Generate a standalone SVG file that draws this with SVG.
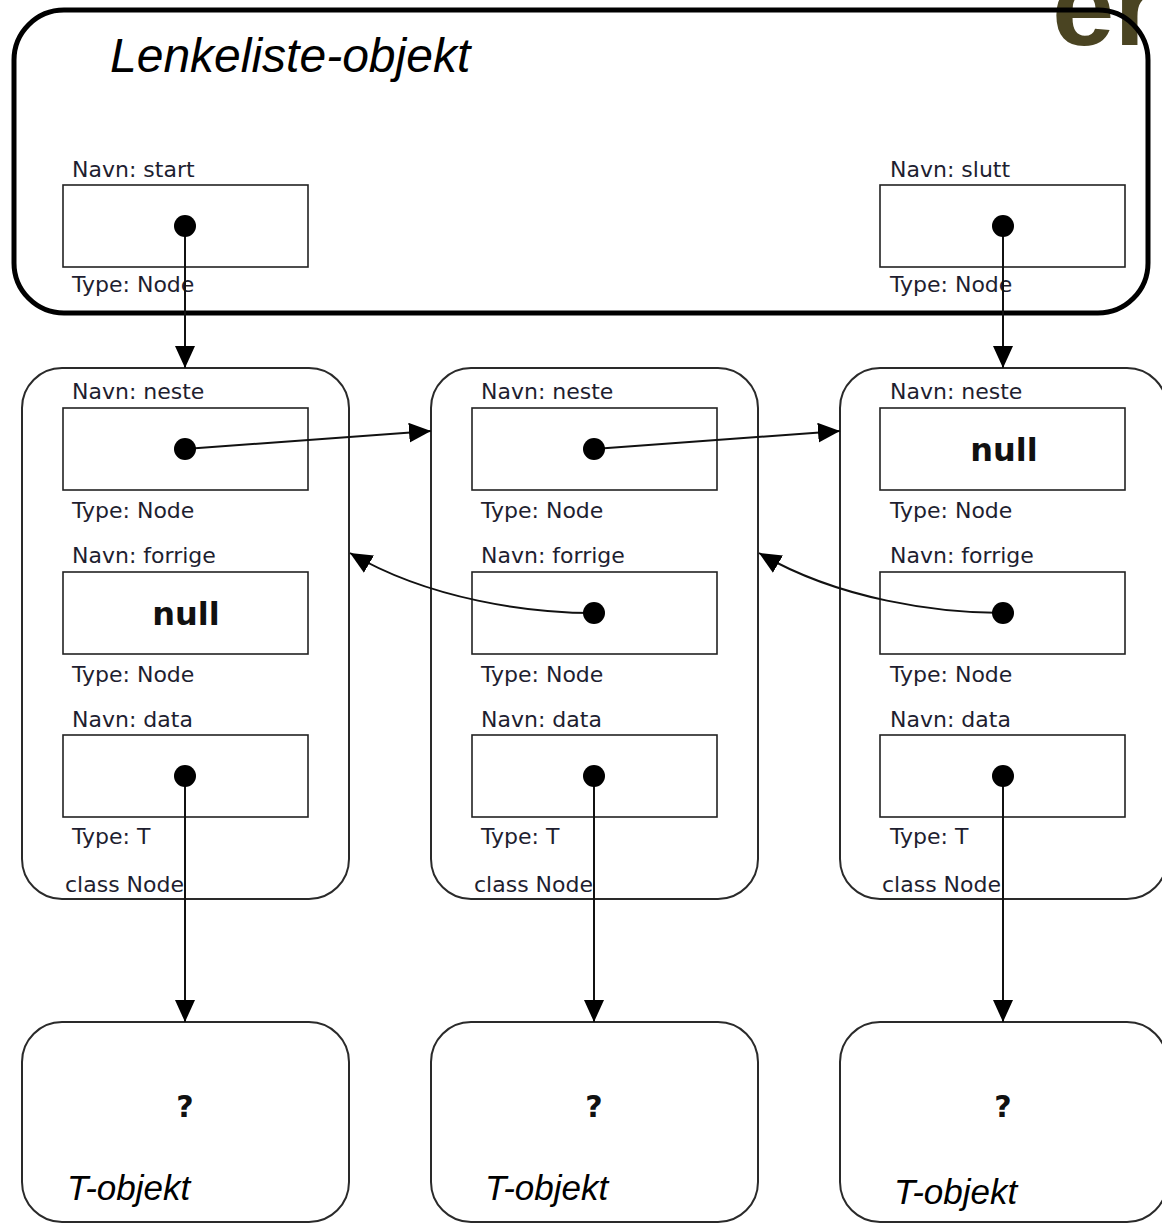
<svg xmlns="http://www.w3.org/2000/svg" width="1162" height="1224" viewBox="0 0 1162 1224">
  <style>
    .lbl { font-family: "DejaVu Sans", Verdana, sans-serif; font-size: 22px; fill: #1e1e30; }
    .null { font-family: "DejaVu Sans", Verdana, sans-serif; font-size: 32px; font-weight: bold; fill: #111; text-anchor: middle; }
    .q { font-family: "DejaVu Sans", Verdana, sans-serif; font-size: 30px; font-weight: bold; fill: #111; text-anchor: middle; }
    .title { font-family: "Liberation Sans", Arial, sans-serif; font-style: italic; fill: #000; }
    .node { fill: #fff; stroke: #2a2a2a; stroke-width: 2; }
    .field { fill: #fff; stroke: #222; stroke-width: 1.6; }
    .dot { fill: #000; }
    .conn { fill: none; stroke: #111; stroke-width: 2; marker-end: url(#arrow); }
  </style>
  <defs>
    <marker id="arrow" markerUnits="userSpaceOnUse" markerWidth="22" markerHeight="20" refX="22" refY="10" orient="auto">
      <path d="M0,0 L22,10 L0,20 Z" fill="#000"/>
    </marker>
  </defs>

  <rect width="1162" height="1224" fill="#fff"/>

  <!-- logo fragment, top right -->
  <text x="1052" y="45" font-family="Liberation Sans, Arial, sans-serif" font-weight="bold" font-size="112" fill="#4a4422">er</text>

  <!-- list object -->
  <g id="lenkeliste">
    <rect x="14" y="10" width="1134" height="303" rx="50" ry="50" fill="none" stroke="#000" stroke-width="5"/>
    <text class="title" x="110" y="72" font-size="48">Lenkeliste-objekt</text>
    <text class="lbl" x="72" y="177">Navn: start</text>
    <rect class="field" x="63" y="185" width="245" height="82"/>
    <text class="lbl" x="72" y="292">Type: Node</text>
    <text class="lbl" x="890" y="177">Navn: slutt</text>
    <rect class="field" x="880" y="185" width="245" height="82"/>
    <text class="lbl" x="890" y="292">Type: Node</text>
  </g>

  <!-- node 1 -->
  <g id="node1">
    <rect class="node" x="22" y="368" width="327" height="531" rx="40" ry="40"/>
    <text class="lbl" x="72" y="399">Navn: neste</text>
    <rect class="field" x="63" y="408" width="245" height="82"/>
    <text class="lbl" x="72" y="518">Type: Node</text>
    <text class="lbl" x="72" y="563">Navn: forrige</text>
    <rect class="field" x="63" y="572" width="245" height="82"/>
    <text class="null" x="186" y="625">null</text>
    <text class="lbl" x="72" y="682">Type: Node</text>
    <text class="lbl" x="72" y="727">Navn: data</text>
    <rect class="field" x="63" y="735" width="245" height="82"/>
    <text class="lbl" x="72" y="844">Type: T</text>
    <text class="lbl" x="65" y="892">class Node</text>
  </g>

  <!-- node 2 -->
  <g id="node2">
    <rect class="node" x="431" y="368" width="327" height="531" rx="40" ry="40"/>
    <text class="lbl" x="481" y="399">Navn: neste</text>
    <rect class="field" x="472" y="408" width="245" height="82"/>
    <text class="lbl" x="481" y="518">Type: Node</text>
    <text class="lbl" x="481" y="563">Navn: forrige</text>
    <rect class="field" x="472" y="572" width="245" height="82"/>
    <text class="lbl" x="481" y="682">Type: Node</text>
    <text class="lbl" x="481" y="727">Navn: data</text>
    <rect class="field" x="472" y="735" width="245" height="82"/>
    <text class="lbl" x="481" y="844">Type: T</text>
    <text class="lbl" x="474" y="892">class Node</text>
  </g>

  <!-- node 3 -->
  <g id="node3">
    <rect class="node" x="840" y="368" width="327" height="531" rx="40" ry="40"/>
    <text class="lbl" x="890" y="399">Navn: neste</text>
    <rect class="field" x="880" y="408" width="245" height="82"/>
    <text class="null" x="1004" y="461">null</text>
    <text class="lbl" x="890" y="518">Type: Node</text>
    <text class="lbl" x="890" y="563">Navn: forrige</text>
    <rect class="field" x="880" y="572" width="245" height="82"/>
    <text class="lbl" x="890" y="682">Type: Node</text>
    <text class="lbl" x="890" y="727">Navn: data</text>
    <rect class="field" x="880" y="735" width="245" height="82"/>
    <text class="lbl" x="890" y="844">Type: T</text>
    <text class="lbl" x="882" y="892">class Node</text>
  </g>

  <!-- data objects -->
  <g id="tobj1">
    <rect class="node" x="22" y="1022" width="327" height="200" rx="40" ry="40"/>
    <text class="q" x="185" y="1117">?</text>
    <text class="title" x="67" y="1200" font-size="35">T-objekt</text>
  </g>
  <g id="tobj2">
    <rect class="node" x="431" y="1022" width="327" height="200" rx="40" ry="40"/>
    <text class="q" x="594" y="1117">?</text>
    <text class="title" x="485" y="1200" font-size="35">T-objekt</text>
  </g>
  <g id="tobj3">
    <rect class="node" x="840" y="1022" width="327" height="200" rx="40" ry="40"/>
    <text class="q" x="1003" y="1117">?</text>
    <text class="title" x="894" y="1204" font-size="35">T-objekt</text>
  </g>

  <!-- references -->
  <g id="connectors">
    <path class="conn" d="M185,226 L185,368"/>
    <path class="conn" d="M1003,226 L1003,368"/>
    <path class="conn" d="M185,449 L431,431"/>
    <path class="conn" d="M594,449 L840,431"/>
    <path class="conn" d="M594,613 C530,613 430,600 350,553"/>
    <path class="conn" d="M1003,613 C939,613 839,600 759,553"/>
    <path class="conn" d="M185,776 L185,1022"/>
    <path class="conn" d="M594,776 L594,1022"/>
    <path class="conn" d="M1003,776 L1003,1022"/>
    <circle class="dot" cx="185" cy="226" r="11"/>
    <circle class="dot" cx="1003" cy="226" r="11"/>
    <circle class="dot" cx="185" cy="449" r="11"/>
    <circle class="dot" cx="594" cy="449" r="11"/>
    <circle class="dot" cx="594" cy="613" r="11"/>
    <circle class="dot" cx="1003" cy="613" r="11"/>
    <circle class="dot" cx="185" cy="776" r="11"/>
    <circle class="dot" cx="594" cy="776" r="11"/>
    <circle class="dot" cx="1003" cy="776" r="11"/>
  </g>
</svg>
